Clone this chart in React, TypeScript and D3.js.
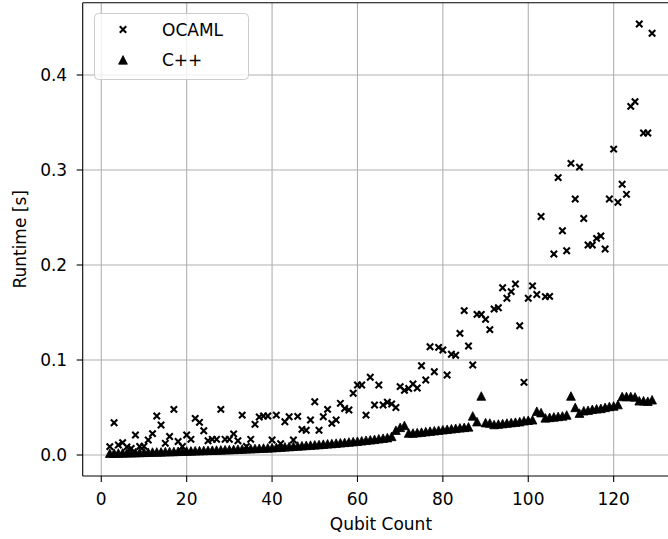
import React from "react";
import * as d3 from "d3";

const qubits: number[] = d3.range(2, 130);

const ocamlRuntime: number[] = [
  0.0088, 0.034, 0.0105, 0.013, 0.0085, 0.007, 0.021, 0.0089, 0.0092, 0.0158,
  0.0225, 0.041, 0.0316, 0.0123, 0.0195, 0.048, 0.0142, 0.009, 0.021, 0.0165,
  0.0386, 0.0344, 0.0256, 0.015, 0.0165, 0.0165, 0.048, 0.0165, 0.0165, 0.0222,
  0.015, 0.042, 0.009, 0.0165, 0.0323, 0.040, 0.041, 0.041, 0.0158, 0.042,
  0.012, 0.035, 0.0403, 0.0158, 0.0407, 0.027, 0.026, 0.0368, 0.056, 0.026,
  0.0403, 0.048, 0.0333, 0.0368, 0.0544, 0.049, 0.0474, 0.065, 0.0737, 0.0737,
  0.042, 0.0818, 0.0526, 0.0737, 0.0526, 0.0555, 0.0537, 0.050, 0.072, 0.068,
  0.070, 0.0747, 0.0705, 0.094, 0.079, 0.114, 0.0877, 0.1133, 0.1105, 0.0842,
  0.106, 0.105, 0.128, 0.152, 0.1147, 0.0947, 0.148, 0.148, 0.1428, 0.132,
  0.1537, 0.155, 0.176, 0.165, 0.172, 0.18, 0.136, 0.0765, 0.165, 0.178,
  0.169, 0.251, 0.1667, 0.167, 0.2116, 0.292, 0.236, 0.215, 0.307, 0.2695,
  0.303, 0.249, 0.221, 0.221, 0.228, 0.2305, 0.2168, 0.2695, 0.322, 0.266,
  0.285, 0.2744, 0.367, 0.372, 0.4537, 0.339, 0.339, 0.444,
];

const cppRuntime: number[] = [
  0.0018, 0.0019, 0.002, 0.0021, 0.0022, 0.0023, 0.0024, 0.0026, 0.0027, 0.0028,
  0.003, 0.0031, 0.0032, 0.0034, 0.0035, 0.0036, 0.0038, 0.0039, 0.0041, 0.0042,
  0.0044, 0.0045, 0.0047, 0.0048, 0.005, 0.0051, 0.0053, 0.0055, 0.0056, 0.0058,
  0.006, 0.0062, 0.0064, 0.0066, 0.0068, 0.007, 0.0072, 0.0074, 0.0076, 0.0079,
  0.0082, 0.0085, 0.0088, 0.0091, 0.0094, 0.0097, 0.01, 0.0103, 0.0106, 0.0109,
  0.0113, 0.0117, 0.012, 0.0124, 0.0128, 0.0132, 0.0136, 0.014, 0.0144, 0.0149,
  0.0154, 0.0159, 0.0164, 0.017, 0.0176, 0.0182, 0.0195, 0.026, 0.029, 0.031,
  0.023, 0.023, 0.0235, 0.024, 0.0245, 0.025, 0.0255, 0.026, 0.0265, 0.027,
  0.0275, 0.028, 0.0285, 0.029, 0.0295, 0.041, 0.035, 0.062, 0.034, 0.0335,
  0.032, 0.0325, 0.033, 0.0335, 0.034, 0.0345, 0.035, 0.036, 0.0365, 0.037,
  0.046, 0.0445, 0.039, 0.0395, 0.04, 0.0405, 0.041, 0.042, 0.062, 0.050,
  0.044, 0.0465, 0.047, 0.048, 0.0485, 0.049, 0.050, 0.051, 0.0515, 0.053,
  0.0615, 0.0615, 0.0615, 0.061, 0.057, 0.057, 0.0565, 0.058,
];

const xTicks: number[] = [0, 20, 40, 60, 80, 100, 120];
const yTicks: number[] = [0.0, 0.1, 0.2, 0.3, 0.4];
const seriesNames: string[] = ["OCAML", "C++"];

const W = 668;
const H = 539;
const left = 82.7;
const right = 679.2;
const top = 2.7;
const bottom = 476;
const FONT = "'DejaVu Sans', sans-serif";
const FS = 17;

const xMark = (s: number) => `M${-s},${-s}L${s},${s}M${-s},${s}L${s},${-s}`;
const triMark = (s: number) => `M0,${-s}L${s},${s * 0.95}L${-s},${s * 0.95}Z`;

export default function App() {
  const x = d3.scaleLinear().domain([-4.35, 135.35]).range([left, right]);
  const y = d3.scaleLinear().domain([-0.0221, 0.4761]).range([bottom, top]);
  const fmt = d3.format(".1f");

  return (
    <svg
      width={W}
      height={H}
      style={{ position: "absolute", left: 0, top: 0, background: "#fff" }}
    >
      <defs>
        <clipPath id="plotclip">
          <rect x={left} y={top} width={right - left} height={bottom - top} />
        </clipPath>
      </defs>
      <rect x={0} y={0} width={W} height={H} fill="#fff" />
      {/* grid */}
      <g stroke="#b0b0b0" strokeWidth={1.1}>
        {xTicks.map((t) => (
          <line key={"gx" + t} x1={x(t)} x2={x(t)} y1={top} y2={bottom} />
        ))}
        {yTicks.map((t) => (
          <line key={"gy" + t} x1={left} x2={right} y1={y(t)} y2={y(t)} />
        ))}
      </g>
      {/* data */}
      <g clipPath="url(#plotclip)">
        {qubits.map((q, i) => (
          <path
            key={"o" + q}
            d={xMark(3.2)}
            transform={`translate(${x(q)},${y(ocamlRuntime[i])})`}
            stroke="#000"
            strokeWidth={2.1}
            fill="none"
          />
        ))}
        {qubits.map((q, i) => (
          <path
            key={"c" + q}
            d={triMark(4.4)}
            transform={`translate(${x(q)},${y(cppRuntime[i])})`}
            fill="#000"
            stroke="#000"
            strokeWidth={0.8}
          />
        ))}
      </g>
      {/* spines */}
      <g stroke="#000" strokeWidth={1.1} fill="none">
        <line x1={left} x2={left} y1={top} y2={bottom} />
        <line x1={left} x2={right} y1={top} y2={top} />
        <line x1={left} x2={right} y1={bottom} y2={bottom} />
      </g>
      {/* x ticks */}
      {xTicks.map((t) => (
        <g key={"xt" + t}>
          <line x1={x(t)} x2={x(t)} y1={bottom} y2={bottom + 6} stroke="#000" strokeWidth={1.1} />
          <text
            x={x(t)}
            y={bottom + 29}
            textAnchor="middle"
            fontFamily={FONT}
            fontSize={FS}
            fill="#000"
          >
            {t}
          </text>
        </g>
      ))}
      {/* y ticks */}
      {yTicks.map((t) => (
        <g key={"yt" + t}>
          <line x1={left - 6} x2={left} y1={y(t)} y2={y(t)} stroke="#000" strokeWidth={1.1} />
          <text
            x={left - 15.5}
            y={y(t) + 6.2}
            textAnchor="end"
            fontFamily={FONT}
            fontSize={FS}
            fill="#000"
          >
            {fmt(t)}
          </text>
        </g>
      ))}
      {/* axis labels */}
      <text
        x={(left + right) / 2}
        y={530}
        textAnchor="middle"
        fontFamily={FONT}
        fontSize={FS}
        fill="#000"
      >
        Qubit Count
      </text>
      <text
        transform={`translate(26,${(top + bottom) / 2}) rotate(-90)`}
        textAnchor="middle"
        fontFamily={FONT}
        fontSize={FS}
        fill="#000"
      >
        Runtime [s]
      </text>
      {/* legend */}
      <g>
        <rect
          x={94.5}
          y={13.5}
          width={154}
          height={66}
          rx={4}
          fill="#fff"
          fillOpacity={0.8}
          stroke="#cccccc"
          strokeWidth={1}
        />
        {seriesNames.map((name, i) => {
          const cy = 29.5 + i * 30.5;
          return (
            <g key={name}>
              {i === 0 ? (
                <path d={xMark(3.2)} transform={`translate(123,${cy})`} stroke="#000" strokeWidth={2.1} fill="none" />
              ) : (
                <path d={triMark(4.4)} transform={`translate(123,${cy})`} fill="#000" stroke="#000" strokeWidth={0.8} />
              )}
              <text x={162} y={cy + 6.2} fontFamily={FONT} fontSize={FS} fill="#000">
                {name}
              </text>
            </g>
          );
        })}
      </g>
    </svg>
  );
}
